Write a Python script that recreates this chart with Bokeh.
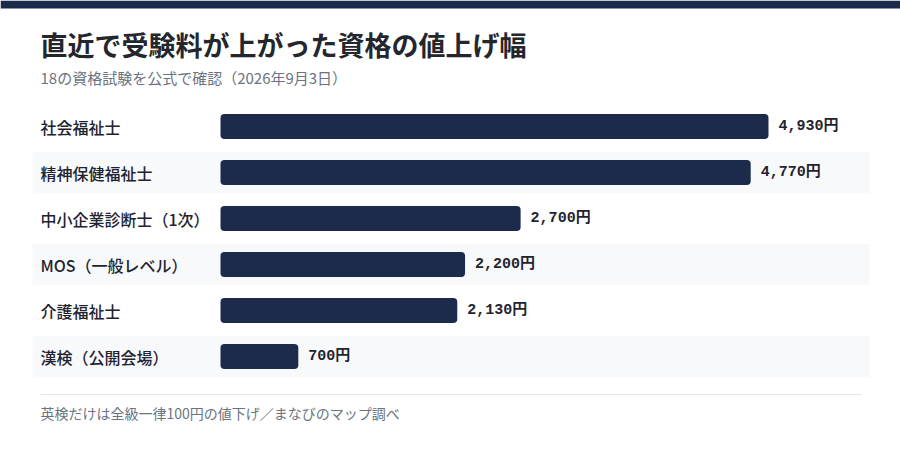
from bokeh.plotting import figure
from bokeh.models import Range1d, Label, BoxAnnotation, ColumnDataSource
from bokeh.core.properties import value
from bokeh.embed import file_html
from bokeh.resources import INLINE

# ---- data ----
categories = ["社会福祉士", "精神保健福祉士", "中小企業診断士（1次）", "MOS（一般レベル）", "介護福祉士", "漢検（公開会場）"]
increases = [4930, 4770, 2700, 2200, 2130, 700]
value_labels = ["4,930円", "4,770円", "2,700円", "2,200円", "2,130円", "700円"]
title_text = "直近で受験料が上がった資格の値上げ幅"
subtitle_text = "18の資格試験を公式で確認（2026年9月3日）"
footnote_text = "英検だけは全級一律100円の値下げ／まなびのマップ調べ"

# ---- layout constants (pixels) ----
W, H = 900, 466
BAR_X0 = 220          # pixel where 0 yen sits
PX_PER_YEN = 548 / 4930
ROW0 = 126            # centre of first row
ROW_H = 46
NAVY = "#1c2a4b"
FONT = "Noto Sans CJK JP"

xr = Range1d(-BAR_X0 / PX_PER_YEN, (W - BAR_X0) / PX_PER_YEN)
yr = Range1d((H - ROW0) / ROW_H, -ROW0 / ROW_H)

p = figure(width=W, height=H, x_range=xr, y_range=yr, output_backend="svg",
           toolbar_location=None, min_border=0, outline_line_color=None,
           background_fill_color="white", border_fill_color="white")
p.axis.visible = False
p.grid.visible = False

idx = list(range(len(categories)))
src = ColumnDataSource(dict(y=idx, v=increases, cat=categories, lab=value_labels))

# alternating row bands
band_rows = [i for i in idx if i % 2 == 1]
p.hbar(y=band_rows, left=(32 - BAR_X0) / PX_PER_YEN, right=(869 - BAR_X0) / PX_PER_YEN,
       height=41 / ROW_H, fill_color="#f8f9fb", line_color=None)

# bars
p.hbar(y="y", left=0, right="v", height=25 / ROW_H, source=src,
       fill_color=NAVY, line_color=None, border_radius=4)

# category labels
p.text(x=(40 - BAR_X0) / PX_PER_YEN, y="y", text="cat", source=src,
       text_font=value("Noto Sans CJK JP Medium, Noto Sans CJK JP"), text_font_size="16px",
       text_color="#1f2430", text_baseline="middle", text_align="left")

# value labels
p.text(x="v", y="y", text="lab", source=src, x_offset=10,
       text_font=value("Liberation Mono, Noto Sans CJK JP"), text_font_size="15px",
       text_font_style="bold", text_color="#1f2430",
       text_baseline="middle", text_align="left")

# top navy strip
p.add_layout(BoxAnnotation(left=0, right=W, top=H, bottom=H - 8,
                           left_units="screen", right_units="screen",
                           top_units="screen", bottom_units="screen",
                           fill_color=NAVY, fill_alpha=1, line_color=None))

# separator
p.add_layout(BoxAnnotation(left=40, right=861, top=H - 393.5, bottom=H - 394.5,
                           left_units="screen", right_units="screen",
                           top_units="screen", bottom_units="screen",
                           fill_color="#e2e6ec", fill_alpha=1, line_color=None))

p.add_layout(Label(x=40, y=H - 44, x_units="screen", y_units="screen", text=title_text,
                   text_font=FONT, text_font_size="27px", text_font_style="bold",
                   text_color="#23262d", text_baseline="middle"))
p.add_layout(Label(x=40, y=H - 77, x_units="screen", y_units="screen", text=subtitle_text,
                   text_font=FONT, text_font_size="15px", text_color="#6b7280",
                   text_baseline="middle"))
p.add_layout(Label(x=40, y=H - 412, x_units="screen", y_units="screen", text=footnote_text,
                   text_font=FONT, text_font_size="14px", text_color="#6b7280",
                   text_baseline="middle"))

open("out.html", "w").write(file_html(p, INLINE))
